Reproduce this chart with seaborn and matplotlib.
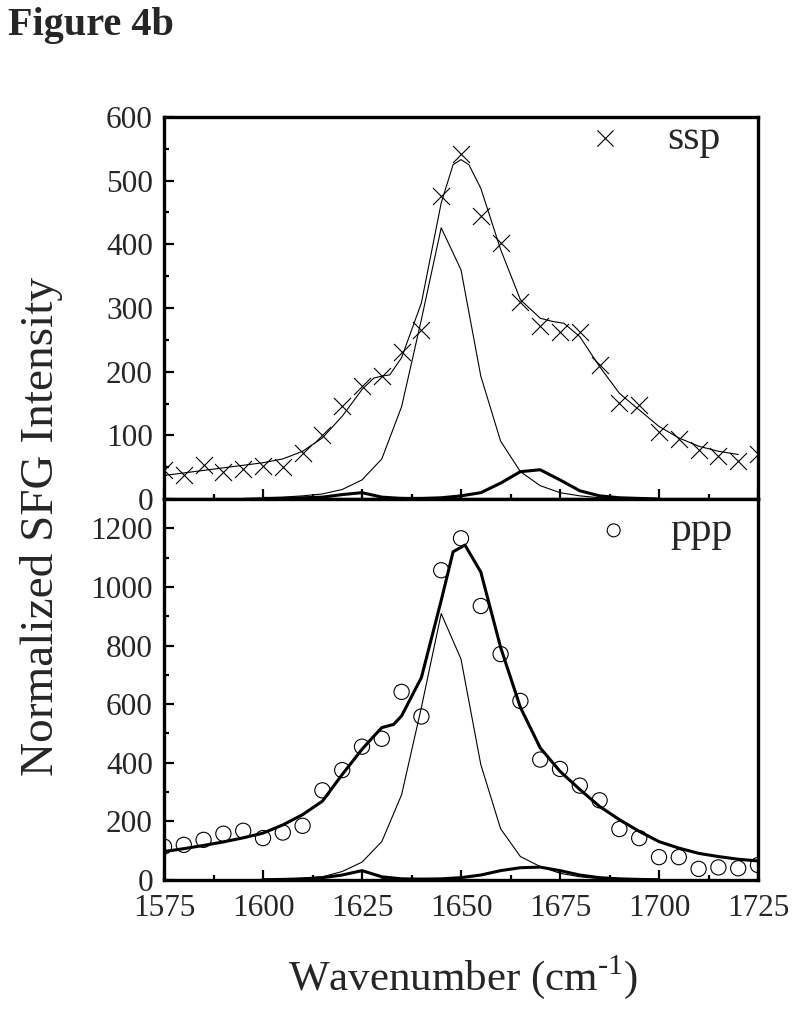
import matplotlib
matplotlib.use("Agg")
import matplotlib.pyplot as plt
import seaborn as sns
from matplotlib.ticker import MultipleLocator

# measured points (every 5 cm-1)
wn = list(range(1575, 1726, 5))
ssp = [45, 38, 54, 42, 47, 52, 50, 72, 100, 146, 177, 193, 231, 266, 476, 542,
       444, 402, 309, 272, 262, 263, 211, 151, 147, 105, 94, 77, 67, 59, 70]
ppp = [114, 120, 137, 158, 168, 143, 162, 185, 306, 375, 455, 482, 642, 558, 1057, 1166,
       935, 771, 611, 411, 379, 322, 272, 174, 143, 78, 78, 38, 43, 40, 51]

# ssp fit
ssp_fit_x = [1575, 1580, 1585, 1590, 1595, 1600, 1605, 1610, 1615, 1620, 1625, 1628, 1630,
             1632, 1635, 1640, 1645, 1648, 1650, 1652, 1655, 1660, 1665, 1670, 1673, 1676,
             1680, 1685, 1690, 1695, 1700, 1705, 1710, 1715, 1720]
ssp_fit_y = [37, 41, 45, 49, 53, 57, 63, 75, 96, 130, 172, 190, 193, 195, 222, 308, 465,
             525, 533, 525, 488, 392, 313, 284, 279, 276, 255, 208, 166, 140, 114, 96, 83,
             75, 70]

# ppp fit
ppp_fit_x = [1575, 1580, 1585, 1590, 1595, 1600, 1605, 1610, 1615, 1620, 1625, 1628, 1630,
             1633, 1635, 1640, 1645, 1648, 1651, 1655, 1660, 1665, 1670, 1675, 1680, 1685,
             1690, 1695, 1700, 1705, 1710, 1715, 1720, 1725]
ppp_fit_y = [97, 107, 118, 130, 144, 160, 188, 223, 269, 360, 446, 491, 520, 531, 560, 691,
             954, 1120, 1143, 1051, 794, 589, 451, 371, 309, 251, 206, 166, 131, 109, 91,
             80, 71, 65]

# component peaks
main_x = list(range(1595, 1701, 5))
ssp_main = [1, 2, 3, 5, 8, 15, 30, 63, 145, 282, 426, 360, 193, 91, 43, 21, 10, 5, 2, 1, 0, 0]
ppp_main = [1, 2, 3, 6, 11, 29, 61, 131, 291, 589, 909, 754, 394, 175, 80, 46, 23, 11, 5, 2, 1, 0]

low_x = list(range(1600, 1651, 5))
ssp_low = [1, 1, 2, 3, 7, 10, 3, 1, 0, 0, 0]
ppp_low = [1, 2, 4, 8, 17, 32, 11, 4, 2, 1, 0]

high_x = list(range(1630, 1701, 5))
ssp_high = [0, 1, 1, 2, 5, 10, 25, 43, 46, 30, 13, 5, 2, 1, 0]
ppp_high = [1, 2, 3, 4, 8, 17, 32, 42, 44, 32, 17, 8, 4, 2, 1]

sns.set_style("ticks")
plt.rcParams['font.family'] = ['Liberation Serif', 'DejaVu Serif']
plt.rcParams['mathtext.fontset'] = 'custom'
plt.rcParams['mathtext.rm'] = 'Liberation Serif'

fig = plt.figure(figsize=(8, 10.1), dpi=100)
ax1 = fig.add_axes([0.205, 0.5059, 0.7425, 0.3783])
ax2 = fig.add_axes([0.205, 0.1287, 0.7425, 0.3772])

thin = 0.8
thick = 2.2

# top panel: ssp
sns.lineplot(x=ssp_fit_x, y=ssp_fit_y, ax=ax1, color='black', lw=thin, estimator=None, legend=False)
sns.lineplot(x=main_x, y=ssp_main, ax=ax1, color='black', lw=thin, estimator=None, legend=False)
sns.lineplot(x=low_x, y=ssp_low, ax=ax1, color='black', lw=thick, estimator=None, legend=False)
sns.lineplot(x=high_x, y=ssp_high, ax=ax1, color='black', lw=thick, estimator=None, legend=False)
sns.scatterplot(x=wn, y=ssp, ax=ax1, marker='x', s=150, color='black', linewidth=0.8,
                label='ssp', legend=False)

# bottom panel: ppp
sns.lineplot(x=ppp_fit_x, y=ppp_fit_y, ax=ax2, color='black', lw=thick, estimator=None, legend=False)
sns.lineplot(x=main_x, y=ppp_main, ax=ax2, color='black', lw=thin, estimator=None, legend=False)
sns.lineplot(x=low_x, y=ppp_low, ax=ax2, color='black', lw=thick, estimator=None, legend=False)
sns.lineplot(x=high_x, y=ppp_high, ax=ax2, color='black', lw=thick, estimator=None, legend=False)
sns.scatterplot(x=wn, y=ppp, ax=ax2, marker='o', s=120, facecolor='none', edgecolor='black',
                linewidth=0.8, label='ppp', legend=False)

ax1.set_ylim(0, 600)
ax2.set_ylim(0, 1300)
ax1.yaxis.set_major_locator(MultipleLocator(100))
ax1.yaxis.set_minor_locator(MultipleLocator(50))
ax2.yaxis.set_major_locator(MultipleLocator(200))
ax2.yaxis.set_minor_locator(MultipleLocator(100))

for ax in (ax1, ax2):
    ax.set_xlim(1575, 1725)
    ax.xaxis.set_major_locator(MultipleLocator(25))
    ax.xaxis.set_minor_locator(MultipleLocator(12.5))
    ax.set_xlabel('')
    ax.set_ylabel('')
    for sp in ax.spines.values():
        sp.set_linewidth(2.4)
        sp.set_color('black')
    ax.tick_params(which='both', direction='in', top=False, right=False, color='black')
    ax.tick_params(which='major', length=7.5, width=1.6, labelsize=22.5)
    ax.tick_params(which='minor', length=3.5, width=1.6)
    ax.tick_params(axis='y', pad=8)
    ax.tick_params(axis='x', pad=10)
ax1.tick_params(labelbottom=False)
for lab in ax1.get_yticklabels() + ax2.get_yticklabels():
    lab.set_verticalalignment('center_baseline')

# legends
leg_kw = dict(loc='center left', frameon=False, fontsize=30, handlelength=1.0,
              borderpad=0, borderaxespad=0, scatterpoints=1)
ax1.legend(handles=[ax1.collections[-1]], labels=['ssp'], bbox_to_anchor=(0.707, 0.942),
           markerscale=0.95, handletextpad=1.0, **leg_kw)
ax2.legend(handles=[ax2.collections[-1]], labels=['ppp'], bbox_to_anchor=(0.722, 0.916),
           markerscale=0.85, handletextpad=0.85, **leg_kw)

fig.text(42 / 800, 1 - 527 / 1010, 'Normalized SFG Intensity', rotation=90,
         ha='center', va='center', fontsize=34)
fig.text(463 / 800, 1 - 977 / 1010, r'Wavenumber (cm$^{\text{-1}}$)',
         ha='center', va='center', fontsize=31)
fig.text(8 / 800, 1 - 25 / 1010, 'Figure 4b', ha='left', va='center',
         fontsize=29, fontweight='bold')

fig.savefig('out.png', dpi=100)
